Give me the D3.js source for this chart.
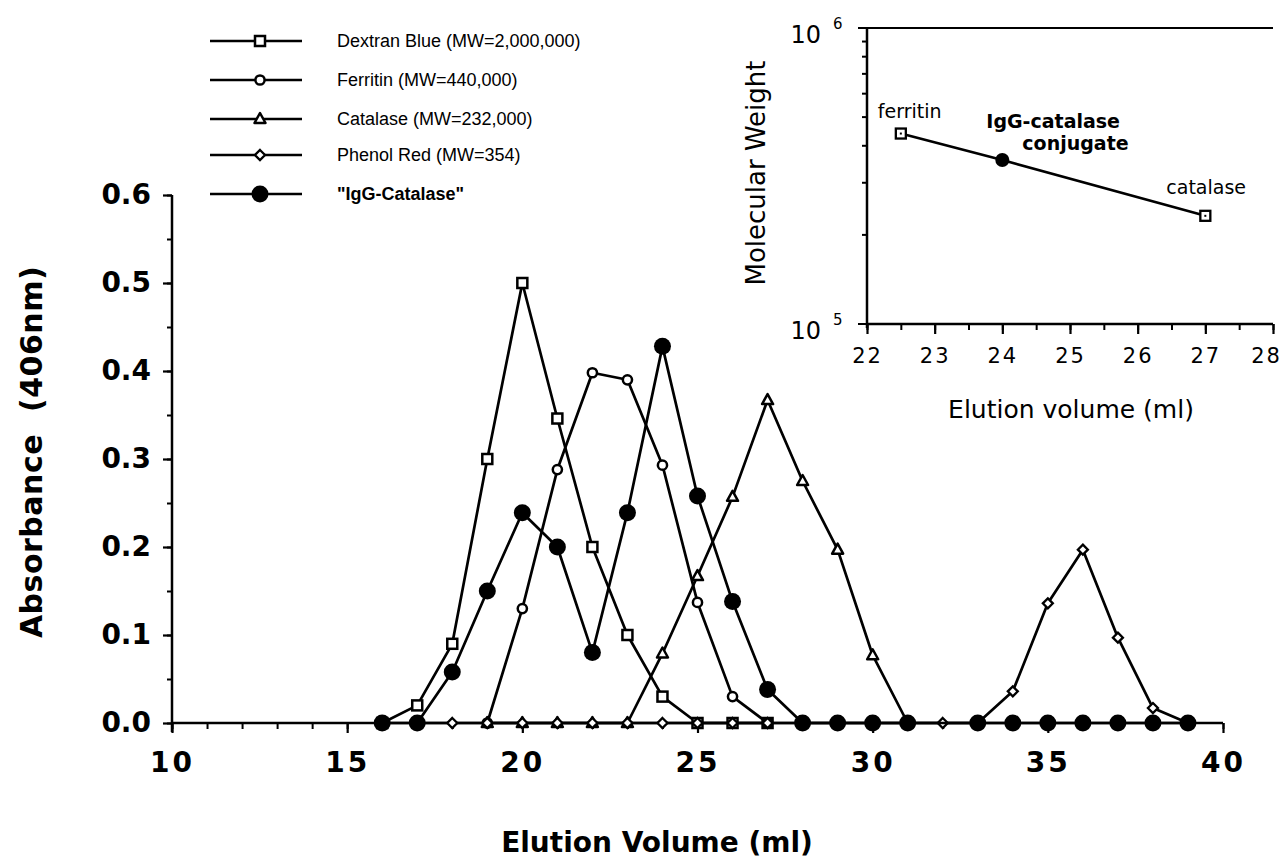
<!DOCTYPE html>
<html><head><meta charset="utf-8">
<script src="https://cdn.jsdelivr.net/npm/d3@7"></script>
<style>
body{margin:0;background:#fff}
svg{display:block}
text{font-family:"DejaVu Sans","Liberation Sans",Arial,sans-serif;fill:#000}
</style>
</head><body>
<svg id="c" width="1284" height="864"></svg>
<script>
// ---- data (main chromatogram) ----
const dextranX = [16,17,18,19,20,21,22,23,24,25,26,27];
const dextranY = [0,0.02,0.09,0.30,0.50,0.346,0.20,0.10,0.03,0,0,0];
const ferritinX = [19,20,21,22,23,24,25,26,27];
const ferritinY = [0,0.13,0.288,0.398,0.39,0.293,0.137,0.03,0];
const catalaseX = [19,20,21,22,23,24,25,26,27,28,29,30,31];
const catalaseY = [0,0,0,0,0,0.079,0.167,0.257,0.367,0.275,0.197,0.077,0];
const phenolX = [17,18,19,20,21,22,23,24,25,26,27,28,29,30,31,32,33,34,35,36,37,38,39];
const phenolY = [0,0,0,0,0,0,0,0,0,0,0,0,0,0,0,0,0,0.036,0.136,0.197,0.097,0.017,0];
const iggX = [16,17,18,19,20,21,22,23,24,25,26,27,28,29,30,31,33,34,35,36,37,38,39];
const iggY = [0,0,0.058,0.15,0.239,0.2,0.08,0.239,0.428,0.258,0.138,0.038,0,0,0,0,0,0,0,0,0,0,0];
const seriesNames = ["Dextran Blue (MW=2,000,000)","Ferritin (MW=440,000)","Catalase (MW=232,000)","Phenol Red (MW=354)","\"IgG-Catalase\""];
const seriesMarkers = ["square","circle","triangle","diamond","filled"];
const xTicks = [10,15,20,25,30,35,40];
const yTicks = [0,0.1,0.2,0.3,0.4,0.5,0.6];

// ---- data (inset calibration) ----
const insetNames = ["ferritin","IgG-catalase conjugate","catalase"];
const insetX = [22.5,24,27];
const insetMW = [440000,358000,232000];
const insetXTicks = [22,23,24,25,26,27,28];
const insetYTicks = [1e5,1e6];

const svg = d3.select("#c");
const x = d3.scaleLinear().domain([10,40]).range([172,1223]);
const y = d3.scaleLinear().domain([0,0.6]).range([723,195]);

function marker(g, type, cx, cy, big){
  const k = big || 1;
  if(type==="square"){
    g.append("rect").attr("x",cx-5*k).attr("y",cy-5*k).attr("width",10*k).attr("height",10*k)
     .attr("fill","#fff").attr("stroke","#000").attr("stroke-width",2.5);
  } else if(type==="circle"){
    g.append("circle").attr("cx",cx).attr("cy",cy).attr("r",4.6*k)
     .attr("fill","#fff").attr("stroke","#000").attr("stroke-width",2.5);
  } else if(type==="triangle"){
    g.append("path").attr("d",`M${cx},${cy-6*k}L${cx+5.5*k},${cy+4*k}L${cx-5.5*k},${cy+4*k}Z`)
     .attr("fill","#fff").attr("stroke","#000").attr("stroke-width",2.5).attr("stroke-linejoin","round");
  } else if(type==="diamond"){
    g.append("path").attr("d",`M${cx},${cy-5*k}L${cx+5*k},${cy}L${cx},${cy+5*k}L${cx-5*k},${cy}Z`)
     .attr("fill","#fff").attr("stroke","#000").attr("stroke-width",2.3);
  } else if(type==="filled"){
    g.append("circle").attr("cx",cx).attr("cy",cy).attr("r",8.5*k).attr("fill","#000");
  }
}

// ---- main axes ----
const minorX = svg.append("g").attr("transform",`translate(0,${y(0)})`)
  .call(d3.axisBottom(x).tickValues(d3.range(10,41,1)).tickSize(6).tickFormat("").tickSizeOuter(0));
minorX.select(".domain").remove();
minorX.selectAll("line").attr("stroke-width",2);

const majorX = svg.append("g").attr("transform",`translate(0,${y(0)})`)
  .call(d3.axisBottom(x).tickValues(xTicks).tickSize(10).tickPadding(19).tickFormat(d3.format("d")).tickSizeOuter(0));
majorX.select(".domain").remove();
majorX.selectAll("line").attr("stroke-width",2.2);
majorX.selectAll("text").attr("font-family",null).style("font-size","28px").style("font-weight","bold").style("letter-spacing","3px");

const minorY = svg.append("g").attr("transform",`translate(${x(10)},0)`)
  .call(d3.axisLeft(y).tickValues(d3.range(0,13).map(i=>i*0.05)).tickSize(5).tickFormat("").tickSizeOuter(0));
minorY.select(".domain").remove();
minorY.selectAll("line").attr("stroke-width",2);

const majorY = svg.append("g").attr("transform",`translate(${x(10)},0)`)
  .call(d3.axisLeft(y).tickValues(yTicks).tickSize(9).tickPadding(12).tickFormat(d3.format(".1f")).tickSizeOuter(0));
majorY.select(".domain").remove();
majorY.selectAll("line").attr("stroke-width",2.2);
majorY.selectAll("text").attr("font-family",null).style("font-size","28px").style("font-weight","bold");

svg.append("line").attr("x1",x(10)).attr("x2",x(40)).attr("y1",y(0)).attr("y2",y(0)).attr("stroke","#000").attr("stroke-width",2.5);
svg.append("line").attr("x1",x(10)).attr("x2",x(10)).attr("y1",y(0.6)).attr("y2",y(0)+9).attr("stroke","#000").attr("stroke-width",2.5);

svg.append("text").attr("transform",`translate(${x(10)-130},452) rotate(-90)`).attr("text-anchor","middle")
  .style("font-size","30px").style("font-weight","bold").style("letter-spacing","0.5px")
  .text("Absorbance\u00a0\u00a0(406nm)");
svg.append("text").attr("x",657).attr("y",852).attr("text-anchor","middle")
  .style("font-size","28px").style("font-weight","bold").text("Elution Volume (ml)");

// ---- series ----
const allX = [dextranX,ferritinX,catalaseX,phenolX,iggX];
const allY = [dextranY,ferritinY,catalaseY,phenolY,iggY];
const line = d3.line().x(d=>x(d[0])).y(d=>y(d[1]));
allX.forEach((xs,i)=>{
  const pts = xs.map((v,j)=>[v,allY[i][j]]);
  const g = svg.append("g");
  g.append("path").attr("d",line(pts)).attr("fill","none").attr("stroke","#000").attr("stroke-width",2.7).attr("stroke-linejoin","round");
  pts.forEach(p=>marker(g,seriesMarkers[i],x(p[0]),y(p[1])));
});

// ---- legend ----
const legY = [41,80,119,155,194];
seriesNames.forEach((name,i)=>{
  const g = svg.append("g");
  g.append("line").attr("x1",210).attr("x2",302).attr("y1",legY[i]).attr("y2",legY[i]).attr("stroke","#000").attr("stroke-width",2.7);
  marker(g,seriesMarkers[i],260,legY[i]);
  g.append("text").attr("x",337).attr("y",legY[i]).attr("dy","0.36em")
   .style("font-family","'Liberation Sans',Arial,sans-serif")
   .style("font-size","18px").style("font-weight",i===4?"bold":"normal").text(name);
});

// ---- inset ----
const xi = d3.scaleLinear().domain([22,28]).range([867,1273]);
const yi = d3.scaleLog().domain([1e5,1e6]).range([324,28]);
const ins = svg.append("g");
d3.range(2,10).forEach(k=>{
  ins.append("line").attr("x1",xi(22)-5).attr("x2",xi(22)).attr("y1",yi(k*1e5)).attr("y2",yi(k*1e5)).attr("stroke","#000").attr("stroke-width",2);
});
insetYTicks.forEach(v=>{
  ins.append("line").attr("x1",xi(22)-9).attr("x2",xi(22)).attr("y1",yi(v)).attr("y2",yi(v)).attr("stroke","#000").attr("stroke-width",2);
});
const ixAxis = ins.append("g").attr("transform",`translate(0,${yi(1e5)})`)
  .call(d3.axisBottom(xi).tickValues(d3.range(22,28.01,0.5)).tickSize(6).tickFormat("").tickSizeOuter(0));
ixAxis.select(".domain").remove();
ixAxis.selectAll("line").attr("stroke-width",2);
const ixMaj = ins.append("g").attr("transform",`translate(0,${yi(1e5)})`)
  .call(d3.axisBottom(xi).tickValues(insetXTicks).tickSize(10).tickPadding(14).tickFormat(d3.format("d")).tickSizeOuter(0));
ixMaj.select(".domain").remove();
ixMaj.selectAll("line").attr("stroke-width",2.2);
ixMaj.selectAll("text").attr("font-family",null).style("font-size","21px").style("letter-spacing","2px");
ixMaj.selectAll("text").filter(d=>d===28).attr("dx",-7);

ins.append("line").attr("x1",xi(22)).attr("x2",xi(28)).attr("y1",yi(1e5)).attr("y2",yi(1e5)).attr("stroke","#000").attr("stroke-width",2.5);
ins.append("line").attr("x1",xi(22)).attr("x2",xi(28)).attr("y1",yi(1e6)).attr("y2",yi(1e6)).attr("stroke","#000").attr("stroke-width",2);
ins.append("line").attr("x1",xi(22)).attr("x2",xi(22)).attr("y1",yi(1e6)).attr("y2",yi(1e5)+4).attr("stroke","#000").attr("stroke-width",2.5);

insetYTicks.forEach(v=>{
  const exp = Math.round(Math.log10(v));
  ins.append("text").attr("x",xi(22)-46).attr("y",yi(v)+15).attr("text-anchor","end").style("font-size","24px").text("10");
  ins.append("text").attr("x",xi(22)-34).attr("y",yi(v)+1).style("font-size","15px").text(String(exp));
});
ins.append("text").attr("transform",`translate(765,173) rotate(-90)`).attr("text-anchor","middle")
  .style("font-size","26px").text("Molecular Weight");
ins.append("text").attr("x",1071).attr("y",418).attr("text-anchor","middle")
  .style("font-size","25px").text("Elution volume (ml)");

const ipts = insetX.map((v,i)=>[v,insetMW[i]]);
ins.append("path").attr("d",d3.line().x(d=>xi(d[0])).y(d=>yi(d[1]))(ipts)).attr("fill","none").attr("stroke","#000").attr("stroke-width",2.6);
ipts.forEach((p,i)=>{
  const cx = xi(p[0]), cy = yi(p[1]);
  if(i===1){
    ins.append("circle").attr("cx",cx).attr("cy",cy).attr("r",7).attr("fill","#000");
  } else {
    ins.append("rect").attr("x",cx-5).attr("y",cy-5).attr("width",10).attr("height",10).attr("fill","#fff").attr("stroke","#000").attr("stroke-width",2.3);
    ins.append("rect").attr("x",cx-1).attr("y",cy-1).attr("width",2).attr("height",2).attr("fill","#000");
  }
});
ins.append("text").attr("x",xi(insetX[0])-23).attr("y",yi(insetMW[0])-16).style("font-size","19px").text(insetNames[0]);
const conj = insetNames[1].split(" ");
ins.append("text").attr("x",xi(insetX[1])-16).attr("y",yi(insetMW[1])-32).style("font-size","19px").style("font-weight","bold").text(conj[0]);
ins.append("text").attr("x",xi(insetX[1])+20).attr("y",yi(insetMW[1])-10).style("font-size","19px").style("font-weight","bold").text(conj[1]);
ins.append("text").attr("x",xi(insetX[2])-39).attr("y",yi(insetMW[2])-22).style("font-size","19px").text(insetNames[2]);
</script>
</body></html>
